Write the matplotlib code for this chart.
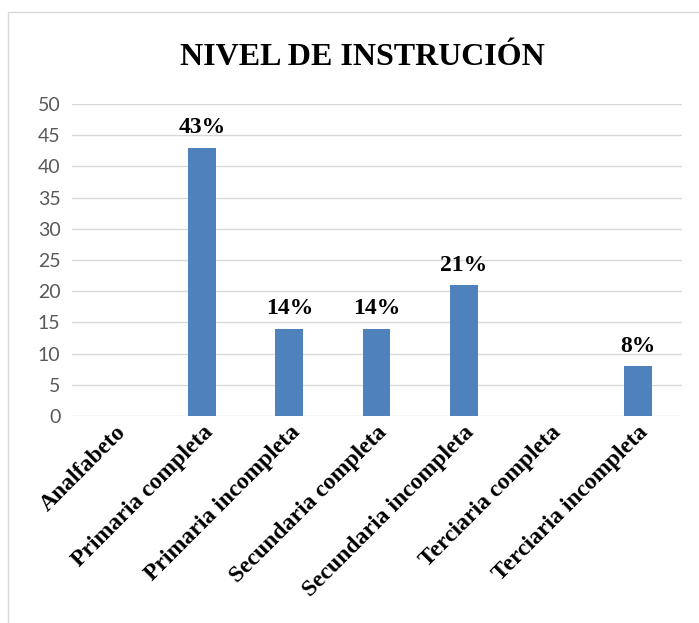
import matplotlib.pyplot as plt
from matplotlib.patches import Rectangle

# datos
categorias = ["Analfabeto", "Primaria completa", "Primaria incompleta",
              "Secundaria completa", "Secundaria incompleta",
              "Terciaria completa", "Terciaria incompleta"]
valores = [0, 43, 14, 14, 21, 0, 8]
etiquetas = ["", "43%", "14%", "14%", "21%", "", "8%"]

fig = plt.figure(figsize=(6.99, 6.23), dpi=100)
ax = fig.add_axes([0.1023, 0.3323, 0.8727, 0.5008])

# marco del grafico
fig.patches.append(Rectangle((8 / 699, -0.01), 1.0, 1 - 12 / 623 + 0.01,
                             transform=fig.transFigure, fill=False,
                             edgecolor="#d9d9d9", linewidth=1))

x = range(len(categorias))
bars = ax.bar(x, valores, width=0.32, color="#4f81bd", zorder=3)

for b, lab in zip(bars, etiquetas):
    if lab:
        ax.text(b.get_x() + b.get_width() / 2, b.get_height() + 1.5, lab,
                ha="center", va="bottom", fontsize=17, fontweight="bold",
                family="Liberation Serif")

ax.set_xlim(-0.5, len(categorias) - 0.5)
ax.set_ylim(0, 50)
ax.set_yticks(range(0, 51, 5))
ax.yaxis.grid(True, color="#d9d9d9", linewidth=1, zorder=0)
for s in ax.spines.values():
    s.set_visible(False)
ax.tick_params(axis="y", length=0, pad=8, labelsize=14, labelcolor="#595959")
for t in ax.get_yticklabels():
    t.set_family("Lato")
ax.tick_params(axis="x", length=0, pad=4)
ax.set_xticks(list(x))
ax.set_xticklabels(categorias, rotation=45, ha="right", rotation_mode="anchor",
                   fontsize=17, fontweight="bold", family="Liberation Serif")
for t in ax.get_xticklabels():
    t.set_x(t.get_position()[0])

fig.text(0.518, 0.908, "NIVEL DE INSTRUCIÓN", ha="center", va="center",
         fontsize=23, fontweight="bold", family="Liberation Serif")

fig.savefig("out.png", dpi=100)
